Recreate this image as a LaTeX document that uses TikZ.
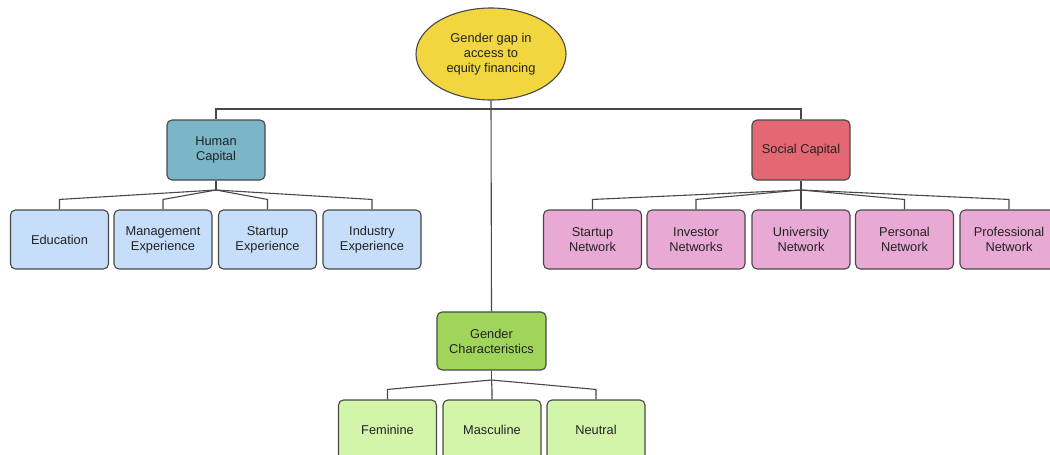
\documentclass[tikz,border=0pt]{standalone}
\usepackage{fontspec}
\setmainfont{Liberation Sans}
\usetikzlibrary{shapes.geometric,calc}
\definecolor{rootfill}{HTML}{F2D640}
\definecolor{hcfill}{HTML}{7AB6C8}
\definecolor{hcchild}{HTML}{C6DEF9}
\definecolor{scfill}{HTML}{E46874}
\definecolor{scchild}{HTML}{E8AAD4}
\definecolor{gcfill}{HTML}{A0D45A}
\definecolor{gcchild}{HTML}{D2F5AA}
\definecolor{edge}{HTML}{484848}
\definecolor{txt}{HTML}{222222}
\tikzset{
  base/.style={draw=edge, line width=1.1pt, text=txt, align=center, inner sep=0pt,
    font=\fontsize{12.8}{15}\selectfont},
  box/.style={base, rectangle, rounded corners=5pt, minimum width=98pt, minimum height=59pt},
  link/.style={draw=edge, line width=1.1pt},
}
\begin{document}
\begin{tikzpicture}[x=1pt,y=-1pt]
\useasboundingbox (0,0) rectangle (1050,455);

% root
\node[base, ellipse, fill=rootfill, minimum width=150pt, minimum height=92pt] (root) at (491,54)
  {Gender gap in\\access to\\equity financing};

% human capital branch
\node[box, fill=hcfill, minimum height=60pt] (hc) at (216,150) {Human\\Capital};
\node[box, fill=hcchild] (edu) at (59.5,239.5) {Education};
\node[box, fill=hcchild] (mgt) at (163,239.5) {Management\\Experience};
\node[box, fill=hcchild] (sup) at (267.5,239.5) {Startup\\Experience};
\node[box, fill=hcchild] (ind) at (372,239.5) {Industry\\Experience};

% social capital branch
\node[box, fill=scfill, minimum height=60pt] (sc) at (801,150) {Social Capital};
\node[box, fill=scchild] (snet) at (592.5,239.5) {Startup\\Network};
\node[box, fill=scchild] (inet) at (696,239.5) {Investor\\Networks};
\node[box, fill=scchild] (unet) at (801,239.5) {University\\Network};
\node[box, fill=scchild] (pnet) at (904.5,239.5) {Personal\\Network};
\node[box, fill=scchild] (prnet) at (1009,239.5) {Professional\\Network};

% gender characteristics branch
\node[box, fill=gcfill, minimum width=109pt, minimum height=58pt] (gc) at (491.5,341) {Gender\\Characteristics};
\node[box, fill=gcchild, minimum height=60pt] (fem) at (387.5,430) {Feminine};
\node[box, fill=gcchild, minimum height=60pt] (mas) at (492,430) {Masculine};
\node[box, fill=gcchild, minimum height=60pt] (neu) at (596,430) {Neutral};

% trunk
\coordinate (bar) at (491,109);
\draw[link] (hc.north) |- (bar) -| (sc.north);
\draw[link] (root.south) -- (gc.north);

% fan-out connectors
\coordinate (hcf) at (216,190);
\coordinate (scf) at (801,190);
\coordinate (gcf) at (491.5,380);
\draw[link] (hc.south) -- (hcf);
\draw[link] (sc.south) -- (scf);
\draw[link] (gc.south) -- (gcf);
\foreach \c in {edu,mgt,sup,ind}
  \draw[link] (hcf) -- ($(\c.north)+(0,-10)$) -- (\c.north);
\foreach \c in {snet,inet,unet,pnet,prnet}
  \draw[link] (scf) -- ($(\c.north)+(0,-10)$) -- (\c.north);
\foreach \c in {fem,mas,neu}
  \draw[link] (gcf) -- ($(\c.north)+(0,-10)$) -- (\c.north);
\end{tikzpicture}
\end{document}
